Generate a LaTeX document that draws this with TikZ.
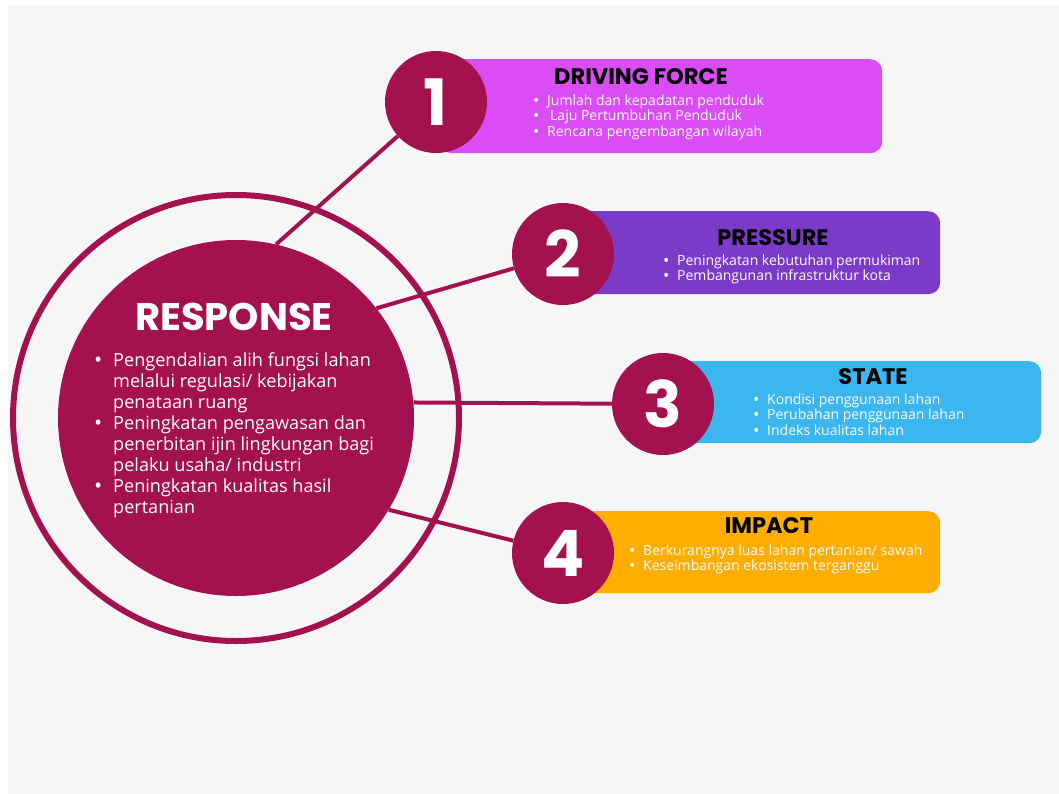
\documentclass[tikz,border=0pt]{standalone}
\usepackage{fontspec}
\setmainfont{Open Sans}
\newfontfamily\headfont{Poppins}
\definecolor{wine}{HTML}{A3114F}
\definecolor{bggray}{HTML}{F6F6F6}
\definecolor{magbox}{HTML}{DA4CF5}
\definecolor{purbox}{HTML}{7B3AC8}
\definecolor{bluebox}{HTML}{3BB6EF}
\definecolor{orbox}{HTML}{FFAD00}
\newcommand{\bul}[1]{\makebox[#1][l]{\raisebox{-0.09em}{\scalebox{1.2}{\textbullet}}}}
\tikzset{
  infobox/.style={rounded corners=12pt,anchor=north west,inner sep=0pt},
  numdisc/.style={circle,fill=wine,minimum size=102pt,inner sep=0pt,text=white,
    font=\headfont\bfseries\fontsize{64}{64}\selectfont},
  headtxt/.style={anchor=base,inner sep=0pt,font=\headfont\bfseries\fontsize{22.5}{22.5}\selectfont},
  smalllist/.style={anchor=base west,inner sep=0pt,text=white,font=\fontsize{14}{15.5}\selectfont},
  link/.style={draw=wine,line width=4pt}
}
\begin{document}
\begin{tikzpicture}[x=1pt,y=-1pt]
\fill[white] (0,0) rectangle (1059,793);
\fill[bggray] (8,5) rectangle (1059,793);
% response circle
\node[circle,draw=wine,line width=6pt,minimum size=446pt,inner sep=0pt] (ring) at (236,418) {};
\node[circle,fill=wine,minimum size=356pt,inner sep=0pt] (resp) at (236,418) {};
\node[anchor=base,inner sep=0pt,text=white,font=\headfont\bfseries\fontsize{38.5}{38.5}\selectfont] (resptitle) at (234,330) {RESPONSE};
\node[anchor=base west,inner sep=0pt,text=white,font=\fontsize{18.1}{21}\selectfont] (resplist) at (94,366) {%
\begin{tabular}[t]{@{}l@{}l@{}}
\bul{19pt} & Pengendalian alih fungsi lahan\\
 & melalui regulasi/ kebijakan\\
 & penataan ruang\\
\bul{19pt} & Peningkatan pengawasan dan\\
 & penerbitan ijin lingkungan bagi\\
 & pelaku usaha/ industri\\
\bul{19pt} & Peningkatan kualitas hasil\\
 & pertanian
\end{tabular}};
% boxes
\node[infobox,fill=magbox,minimum width=442pt,minimum height=94pt] (box1) at (440,59) {};
\node[infobox,fill=purbox,minimum width=370pt,minimum height=83pt] (box2) at (570,211) {};
\node[infobox,fill=bluebox,minimum width=376pt,minimum height=82pt] (box3) at (665,361) {};
\node[infobox,fill=orbox,minimum width=370pt,minimum height=82pt] (box4) at (570,511) {};
% headings
\node[headtxt] (head1) at (641,84) {DRIVING FORCE};
\node[headtxt] (head2) at (773,245) {PRESSURE};
\node[headtxt] (head3) at (873,384) {STATE};
\node[headtxt] (head4) at (769,533) {IMPACT};
% lists
\node[smalllist] (list1) at (533,105) {\begin{tabular}[t]{@{}l@{}l@{}}
\bul{14pt} & Jumlah dan kepadatan penduduk\\
\bul{14pt} & \hspace{3pt}Laju Pertumbuhan Penduduk\\
\bul{14pt} & Rencana pengembangan wilayah
\end{tabular}};
\node[smalllist] (list2) at (663,265) {\begin{tabular}[t]{@{}l@{}l@{}}
\bul{14pt} & Peningkatan kebutuhan permukiman\\
\bul{14pt} & Pembangunan infrastruktur kota
\end{tabular}};
\node[smalllist] (list3) at (753,404) {\begin{tabular}[t]{@{}l@{}l@{}}
\bul{14pt} & Kondisi penggunaan lahan\\
\bul{14pt} & Perubahan penggunaan lahan\\
\bul{14pt} & Indeks kualitas lahan
\end{tabular}};
\node[smalllist] (list4) at (629,555) {\begin{tabular}[t]{@{}l@{}l@{}}
\bul{14pt} & Berkurangnya luas lahan pertanian/ sawah\\
\bul{14pt} & Keseimbangan ekosistem terganggu
\end{tabular}};
% number discs
\node[numdisc] (n1) at (436,102) {1};
\node[numdisc] (n2) at (563,254) {2};
\node[numdisc] (n3) at (663,404) {3};
\node[numdisc] (n4) at (563,553) {4};
% connectors
\draw[link] (resp.77) -- (n1);
\draw[link] (resp.38) -- (n2);
\draw[link] (resp.5) -- (n3);
\draw[link] (resp.-31) -- (n4);
\end{tikzpicture}
\end{document}
